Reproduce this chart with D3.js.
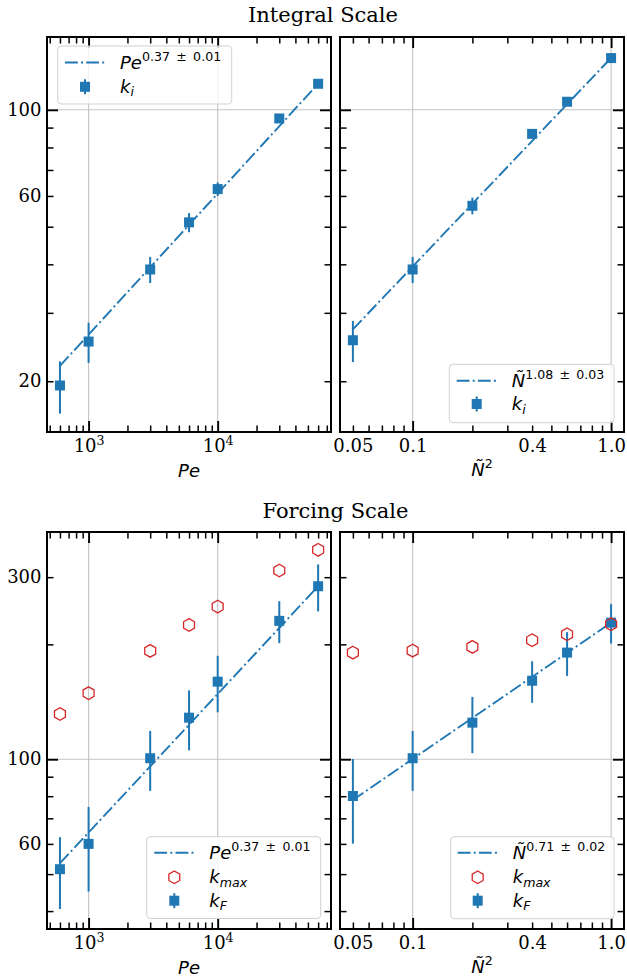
<!DOCTYPE html>
<html><head><meta charset="utf-8">
<script src="https://cdn.jsdelivr.net/npm/d3@7"></script>
<style>body{margin:0;background:#fff} svg{display:block}</style>
</head><body>
<script>
// ---------------- DATA ----------------
const peValues = [600, 1000, 3000, 6000, 10000, 30000, 60000];
const n2Values = [0.05, 0.1, 0.2, 0.4, 0.6, 1.0];

// Integral scale k_i
const kiPe    = [19.5, 25.3, 38.8, 51.3, 62.5, 95.0, 116.7];
const kiPeErr = [3.0, 3.0, 3.0, 2.9, 2.5, 1.5, 1.0];
const kiN     = [25.5, 38.8, 56.6, 86.7, 104.9, 135.9];
const kiNErr  = [3.1, 3.0, 2.8, 1.8, 1.2, 1.2];

// Forcing scale k_F and k_max
const kFPe    = [51.5, 60.0, 100.6, 128.5, 159.7, 230.5, 284.0];
const kFPeErr = [11, 15, 18, 23, 27, 29, 40];
const kmaxPe  = [131.4, 149.0, 192.3, 224.9, 251.2, 312.3, 353.8];
const kFN     = [80.1, 100.6, 124.7, 160.6, 190.3, 228.0];
const kFNErr  = [20, 18, 21, 20, 25, 27];
const kmaxN   = [190.3, 192.6, 197.0, 205.1, 212.6, 225.9];

// Fit lines (end points)
const fitKiPeX = [600, 60000],  fitKiPeY = [21.9, 116.7];
const fitKiNX  = [0.05, 1.0],   fitKiNY  = [27.2, 136.0];
const fitKFPeX = [600, 60000],  fitKFPeY = [53.4, 284.0];
const fitKFNX  = [0.05, 1.0],   fitKFNY  = [78.2, 228.0];

// Legend labels
const legKiPe = [[["Pe","i"],["0.37\u2002±\u20020.01","sup"]], [["k","i"],["i","sub"]]];
const legKiN  = [[["Ñ","i"],["1.08\u2002±\u20020.03","sup"]], [["k","i"],["i","sub"]]];
const legKFPe = [[["Pe","i"],["0.37\u2002±\u20020.01","sup"]], [["k","i"],["max","sub"]], [["k","i"],["F","sub"]]];
const legKFN  = [[["Ñ","i"],["0.71\u2002±\u20020.02","sup"]], [["k","i"],["max","sub"]], [["k","i"],["F","sub"]]];

// Ticks
const peDomain = [Math.pow(10, 2.6778), Math.pow(10, 4.8778)];
const n2Domain = [Math.pow(10, -1.366), Math.pow(10, 0.065)];
const yTopDomain = [14.8, 154];
const yBotDomain = [35.9, 394];

const peMajor = [1e3, 1e4];
const peMinor = [500,600,700,800,900,2000,3000,4000,5000,6000,7000,8000,9000,20000,30000,40000,50000,60000,70000];
const peLabelTicks = [1e3, 1e4];
const peLabels = [["10","3"],["10","4"]];
const n2Major = [0.1, 1.0];
const n2Minor = [0.05,0.06,0.07,0.08,0.09,0.2,0.3,0.4,0.5,0.6,0.7,0.8,0.9];
const n2LabelTicks = [0.05, 0.1, 0.4, 1.0];
const n2Labels = ["0.05","0.1","0.4","1.0"];
const yTopMajor = [100];
const yTopMinor = [20,30,40,50,60,70,80,90];
const yTopLabelTicks = [20, 60, 100];
const yBotMajor = [100];
const yBotMinor = [40,50,60,70,80,90,200,300];
const yBotLabelTicks = [60, 100, 300];

const titles = ["Integral Scale", "Forcing Scale"];

// ---------------- STYLE ----------------
const BLUE = "#1f77b4", RED = "#d62728";
const W = 627, H = 978;
const MAJ = 11, MIN = 6.5;
const serif = "'DejaVu Serif', serif";
const sans = "'DejaVu Sans', sans-serif";

const svg = d3.select("body").append("svg").attr("width", W).attr("height", H)
  .attr("font-family", sans);

function richText(sel, parts, size) {
  let cur = 0;
  parts.forEach(([t, kind]) => {
    let target = 0, fs = size, fst = "normal";
    if (kind === "i") fst = "italic";
    if (kind === "sup") { target = -size * 0.42; fs = size * 0.7; }
    if (kind === "sub") { target = size * 0.2; fs = size * 0.7; fst = "italic"; }
    sel.append("tspan").text(t).attr("dy", (target - cur).toFixed(2))
      .attr("font-size", fs.toFixed(2)).attr("font-style", fst);
    cur = target;
  });
}

function hexPath(r) {
  const pts = d3.range(6).map(k => {
    const a = -Math.PI / 2 + k * Math.PI / 3;
    return [r * Math.cos(a), r * Math.sin(a)];
  });
  return d3.line()(pts) + "Z";
}
const squarePath = d3.symbol().type(d3.symbolSquare).size(100)();

function panel(o) {
  const x = d3.scaleLog().domain(o.xdom).range([o.x0, o.x1]);
  const y = d3.scaleLog().domain(o.ydom).range([o.y1, o.y0]);
  const g = svg.append("g");

  // grid
  g.append("g").selectAll("line").data(o.xMajor).join("line")
    .attr("x1", d => x(d)).attr("x2", d => x(d)).attr("y1", o.y0).attr("y2", o.y1)
    .attr("stroke", "#c4c4c4").attr("stroke-width", 1.1);
  g.append("g").selectAll("line").data(o.yMajor).join("line")
    .attr("y1", d => y(d)).attr("y2", d => y(d)).attr("x1", o.x0).attr("x2", o.x1)
    .attr("stroke", "#c4c4c4").attr("stroke-width", 1.1);

  // ticks on all sides, inward
  const sides = [
    [d3.axisBottom(x), `translate(0,${o.y1})`, o.xMajor, o.xMinor],
    [d3.axisTop(x), `translate(0,${o.y0})`, o.xMajor, o.xMinor],
    [d3.axisLeft(y), `translate(${o.x0},0)`, o.yMajor, o.yMinor],
    [d3.axisRight(y), `translate(${o.x1},0)`, o.yMajor, o.yMinor]
  ];
  sides.forEach(([ax, tr, maj, min]) => {
    [[maj, MAJ, 1.9], [min, MIN, 1.5]].forEach(([vals, len, sw]) => {
      const a = g.append("g").attr("transform", tr)
        .call(ax.tickValues(vals).tickSize(-len).tickFormat(""));
      a.select(".domain").remove();
      a.selectAll("line").attr("stroke", "#000").attr("stroke-width", sw);
    });
  });

  // x tick labels
  const xl = g.append("g").attr("transform", `translate(0,${o.y1})`)
    .call(d3.axisBottom(x).tickValues(o.xLabelTicks).tickSize(0).tickPadding(7.2).tickFormat(""));
  xl.select(".domain").remove();
  xl.selectAll("text").each(function(d, i) {
    const t = d3.select(this).attr("font-family", serif).attr("font-size", 18).attr("fill", "#000");
    const lab = o.xLabels[i];
    if (Array.isArray(lab)) {
      t.append("tspan").text(lab[0]);
      t.append("tspan").text(lab[1]).attr("font-size", 12.6).attr("dy", -6.5);
    } else t.text(lab);
  });

  // y tick labels
  if (o.showY) {
    const yl = g.append("g").attr("transform", `translate(${o.x0},0)`)
      .call(d3.axisLeft(y).tickValues(o.yLabelTicks).tickSize(0).tickPadding(5.5).tickFormat(d3.format("d")));
    yl.select(".domain").remove();
    yl.selectAll("text").attr("font-family", serif).attr("font-size", 18).attr("fill", "#000");
  }

  // axis label
  const lab = g.append("text").attr("x", (o.x0 + o.x1) / 2).attr("y", o.y1 + o.xlabDy)
    .attr("text-anchor", "middle").attr("font-size", 18).attr("fill", "#000");
  richText(lab, o.xlabel, 18);

  // fit line
  const fitPts = o.fitX.map((v, i) => [x(v), y(o.fitY[i])]);
  g.append("path").attr("d", d3.line()(fitPts)).attr("fill", "none")
    .attr("stroke", BLUE).attr("stroke-width", 1.9).attr("stroke-dasharray", "12.8,3.2,2,3.2");

  // error bars
  g.append("g").selectAll("line").data(o.xs).join("line")
    .attr("x1", d => x(d)).attr("x2", d => x(d))
    .attr("y1", (d, i) => y(o.ys[i] - o.err[i])).attr("y2", (d, i) => y(o.ys[i] + o.err[i]))
    .attr("stroke", BLUE).attr("stroke-width", 2);
  // squares
  g.append("g").selectAll("path").data(o.xs).join("path")
    .attr("d", squarePath).attr("fill", BLUE)
    .attr("transform", (d, i) => `translate(${x(d)},${y(o.ys[i])})`);
  // hexagons
  if (o.kmax) {
    g.append("g").selectAll("path").data(o.xs).join("path")
      .attr("d", hexPath(6.3)).attr("fill", "none").attr("stroke", RED).attr("stroke-width", 1.3)
      .attr("transform", (d, i) => `translate(${x(d)},${y(o.kmax[i])})`);
  }

  // frame
  g.append("rect").attr("x", o.x0).attr("y", o.y0).attr("width", o.x1 - o.x0).attr("height", o.y1 - o.y0)
    .attr("fill", "none").attr("stroke", "#000").attr("stroke-width", 2);

  // legend
  const L = o.legend;
  const lg = g.append("g");
  lg.append("rect").attr("x", L.x).attr("y", L.y).attr("width", L.w).attr("height", L.h).attr("rx", 3.5)
    .attr("fill", "#fff").attr("fill-opacity", 0.8).attr("stroke", "#d0d0d0").attr("stroke-width", 1);
  o.legendText.forEach((parts, i) => {
    const ey = L.rows[i];
    const kind = L.kinds[i];
    if (kind === "line") {
      lg.append("line").attr("x1", L.sx).attr("x2", L.sx + 40).attr("y1", ey).attr("y2", ey)
        .attr("stroke", BLUE).attr("stroke-width", 1.9).attr("stroke-dasharray", "12.8,3.2,2,3.2");
    } else if (kind === "hex") {
      lg.append("path").attr("d", hexPath(6.3)).attr("fill", "none").attr("stroke", RED).attr("stroke-width", 1.3)
        .attr("transform", `translate(${L.sx + 20},${ey})`);
    } else {
      lg.append("line").attr("x1", L.sx + 20).attr("x2", L.sx + 20).attr("y1", ey - 7.5).attr("y2", ey + 7.5)
        .attr("stroke", BLUE).attr("stroke-width", 2);
      lg.append("path").attr("d", squarePath).attr("fill", BLUE).attr("transform", `translate(${L.sx + 20},${ey})`);
    }
    const t = lg.append("text").attr("x", L.tx).attr("y", ey + 6).attr("fill", "#000");
    richText(t, parts, 18);
  });
}

const peLab = [["Pe", "i"]];
const nLab = [["Ñ", "i"], ["2", "sup"]];

panel({x0: 47, x1: 331, y0: 37, y1: 432, xdom: peDomain, ydom: yTopDomain,
  xMajor: peMajor, xMinor: peMinor, xLabelTicks: peLabelTicks, xLabels: peLabels,
  yMajor: yTopMajor, yMinor: yTopMinor, yLabelTicks: yTopLabelTicks, showY: true,
  xlabel: peLab, xlabDy: 45, xs: peValues, ys: kiPe, err: kiPeErr,
  fitX: fitKiPeX, fitY: fitKiPeY, legendText: legKiPe,
  legend: {x: 57.7, y: 46, w: 174, h: 58, rows: [62.5, 86.8], kinds: ["line", "sq"], sx: 65, tx: 120}});

panel({x0: 340, x1: 624, y0: 37, y1: 432, xdom: n2Domain, ydom: yTopDomain,
  xMajor: n2Major, xMinor: n2Minor, xLabelTicks: n2LabelTicks, xLabels: n2Labels,
  yMajor: yTopMajor, yMinor: yTopMinor, yLabelTicks: [], showY: false,
  xlabel: nLab, xlabDy: 43.5, xs: n2Values, ys: kiN, err: kiNErr,
  fitX: fitKiNX, fitY: fitKiNY, legendText: legKiN,
  legend: {x: 449.3, y: 364.3, w: 164.7, h: 58.4, rows: [380.7, 404], kinds: ["line", "sq"], sx: 456.7, tx: 511.7}});

panel({x0: 47, x1: 331, y0: 532, y1: 929, xdom: peDomain, ydom: yBotDomain,
  xMajor: peMajor, xMinor: peMinor, xLabelTicks: peLabelTicks, xLabels: peLabels,
  yMajor: yBotMajor, yMinor: yBotMinor, yLabelTicks: yBotLabelTicks, showY: true,
  xlabel: peLab, xlabDy: 45, xs: peValues, ys: kFPe, err: kFPeErr, kmax: kmaxPe,
  fitX: fitKFPeX, fitY: fitKFPeY, legendText: legKFPe,
  legend: {x: 146.7, y: 836.7, w: 174, h: 81.8, rows: [852.7, 877.3, 900.7], kinds: ["line", "hex", "sq"], sx: 154.3, tx: 209.3}});

panel({x0: 340, x1: 624, y0: 532, y1: 929, xdom: n2Domain, ydom: yBotDomain,
  xMajor: n2Major, xMinor: n2Minor, xLabelTicks: n2LabelTicks, xLabels: n2Labels,
  yMajor: yBotMajor, yMinor: yBotMinor, yLabelTicks: [], showY: false,
  xlabel: nLab, xlabDy: 43.5, xs: n2Values, ys: kFN, err: kFNErr, kmax: kmaxN,
  fitX: fitKFNX, fitY: fitKFNY, legendText: legKFN,
  legend: {x: 450.7, y: 836.7, w: 163.3, h: 82, rows: [852.7, 877.3, 900.7], kinds: ["line", "hex", "sq"], sx: 457.7, tx: 512.7}});

// titles
svg.append("text").attr("x", 323).attr("y", 21.7).attr("text-anchor", "middle")
  .attr("font-family", serif).attr("font-size", 21).attr("fill", "#000").text(titles[0]);
svg.append("text").attr("x", 335.5).attr("y", 518.3).attr("text-anchor", "middle")
  .attr("font-family", serif).attr("font-size", 21).attr("fill", "#000").text(titles[1]);
</script>
</body></html>
